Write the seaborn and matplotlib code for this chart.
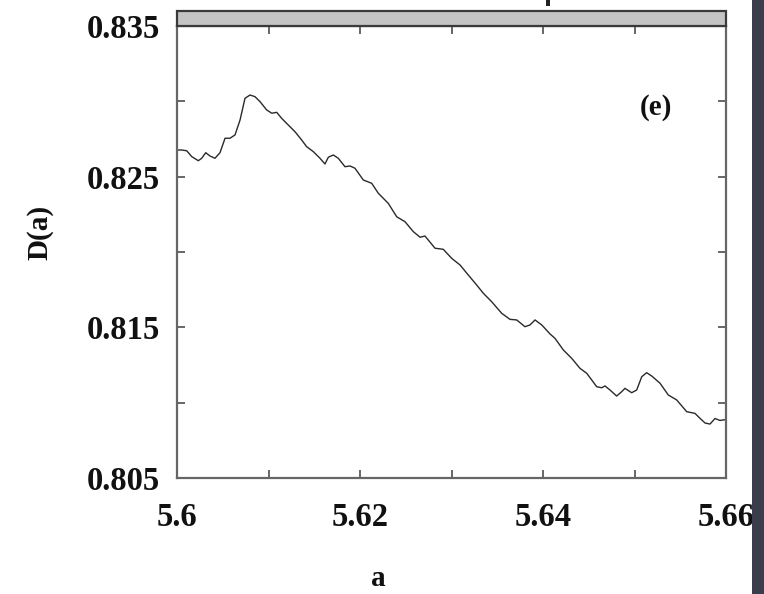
import numpy as np
import pandas as pd
import matplotlib
matplotlib.use("Agg")
import matplotlib.pyplot as plt
from matplotlib.ticker import MultipleLocator, FixedLocator
from matplotlib.patches import Rectangle
import seaborn as sns

# ---- data ----
a_vals = [5.60011, 5.60051, 5.60106, 5.60161, 5.60233, 5.60270, 5.60314, 5.60361,
          5.60415, 5.60470, 5.60525, 5.60579, 5.60634, 5.60689, 5.60743, 5.60798,
          5.60852, 5.60907, 5.60980, 5.61035, 5.61090, 5.61144, 5.61216, 5.61290,
          5.61363, 5.61417, 5.61490, 5.61563, 5.61617, 5.61654, 5.61708, 5.61763,
          5.61836, 5.61891, 5.61945, 5.62036, 5.62128, 5.62200, 5.62309, 5.62401,
          5.62492, 5.62583, 5.62656, 5.62710, 5.62820, 5.62910, 5.63002, 5.63093,
          5.63184, 5.63275, 5.63348, 5.63439, 5.63549, 5.63639, 5.63713, 5.63803,
          5.63858, 5.63913, 5.63986, 5.64077, 5.64131, 5.64222, 5.64314, 5.64404,
          5.64478, 5.64587, 5.64642, 5.64678, 5.64732, 5.64805, 5.64860, 5.64896,
          5.64969, 5.65024, 5.65079, 5.65133, 5.65188, 5.65279, 5.65369, 5.65461,
          5.65571, 5.65661, 5.65716, 5.65771, 5.65825, 5.65880, 5.65934, 5.66000]
D_vals = [0.82677, 0.82677, 0.82672, 0.82633, 0.82606, 0.82622, 0.82659, 0.82637,
          0.82622, 0.82659, 0.82755, 0.82755, 0.82777, 0.82876, 0.83020, 0.83042,
          0.83031, 0.82998, 0.82943, 0.82921, 0.82927, 0.82887, 0.82843, 0.82798,
          0.82743, 0.82699, 0.82666, 0.82622, 0.82584, 0.82629, 0.82644, 0.82622,
          0.82566, 0.82571, 0.82556, 0.82478, 0.82456, 0.82390, 0.82323, 0.82234,
          0.82201, 0.82135, 0.82098, 0.82106, 0.82025, 0.82018, 0.81958, 0.81914,
          0.81847, 0.81781, 0.81726, 0.81670, 0.81593, 0.81553, 0.81549, 0.81504,
          0.81516, 0.81549, 0.81516, 0.81456, 0.81427, 0.81350, 0.81294, 0.81228,
          0.81195, 0.81106, 0.81099, 0.81111, 0.81084, 0.81044, 0.81073, 0.81095,
          0.81066, 0.81084, 0.81172, 0.81199, 0.81177, 0.81129, 0.81051, 0.81018,
          0.80940, 0.80929, 0.80896, 0.80865, 0.80858, 0.80895, 0.80882, 0.80888]

x_ticks = [5.6, 5.62, 5.64, 5.66]
x_tick_labels = ["5.6", "5.62", "5.64", "5.66"]
y_ticks = [0.805, 0.815, 0.825, 0.835]
y_tick_labels = ["0.805", "0.815", "0.825", "0.835"]
panel_label = "(e)"
x_label = "a"
y_label = "D(a)"

df = pd.DataFrame({"a": a_vals, "D": D_vals})

sns.set_theme(style="white")
plt.rcParams["font.family"] = ["Liberation Serif", "DejaVu Serif"]
plt.rcParams["font.weight"] = "bold"

fig = plt.figure(figsize=(7.64, 5.94), dpi=100)
fig.patch.set_facecolor("white")
W, H = 764, 594
L, R, T, B = 177, 726, 26, 478
ax = fig.add_axes([L / W, 1 - B / H, (R - L) / W, (B - T) / H])

sns.lineplot(data=df, x="a", y="D", ax=ax, color="#2a2a2a", lw=1.0, sort=False)

ax.set_xlim(5.6, 5.66)
ax.set_ylim(0.805, 0.835)
ax.xaxis.set_major_locator(FixedLocator(x_ticks))
ax.set_xticklabels(x_tick_labels)
ax.xaxis.set_minor_locator(MultipleLocator(0.01))
ax.yaxis.set_major_locator(FixedLocator(y_ticks))
ax.set_yticklabels(y_tick_labels)
ax.yaxis.set_minor_locator(MultipleLocator(0.005))

spine_col = "#666666"
for s in ax.spines.values():
    s.set_color(spine_col)
    s.set_linewidth(1.6)
ax.tick_params(which="both", direction="in", top=True, right=True, bottom=True, left=True,
               length=6, width=1.4, color=spine_col)
ax.tick_params(axis="x", which="major", labelsize=23.5, pad=17, labelcolor="#111111")
ax.tick_params(axis="y", which="major", labelsize=23.5, pad=12, labelcolor="#111111")
for lab in ax.get_xticklabels() + ax.get_yticklabels():
    lab.set_fontweight("bold")

ax.set_xlabel(x_label, fontsize=21, fontweight="bold", color="#111111")
ax.set_ylabel(y_label, fontsize=21, fontweight="bold", color="#111111")
ax.xaxis.set_label_coords((378 - L) / (R - L), (B - 578) / (B - T))
ax.xaxis.label.set_verticalalignment("center")
ax.yaxis.set_label_coords((40 - L) / (R - L), (B - 232) / (B - T))
ax.yaxis.label.set_verticalalignment("center")

ax.text(0.873, 0.82, panel_label, transform=ax.transAxes, fontsize=21,
        fontweight="bold", ha="center", va="center", color="#111111")

# grey strip above the axes
fig.patches.append(Rectangle((L / W, 1 - 26 / H), (R - L) / W, 15 / H,
                             transform=fig.transFigure, facecolor="#c4c4c4",
                             edgecolor="#3a3a3a", linewidth=1.6, zorder=3))
# small cropped marker above the strip
fig.patches.append(Rectangle((546 / W, 1 - 6 / H), 4 / W, 6 / H,
                             transform=fig.transFigure, facecolor="#222222",
                             edgecolor="none", zorder=3))
# dark band at the right edge
fig.patches.append(Rectangle((752 / W, 0), 12 / W, 1, transform=fig.transFigure,
                             facecolor="#3b3e4a", edgecolor="none", zorder=3))

fig.savefig("out.png", dpi=100, facecolor="white")
